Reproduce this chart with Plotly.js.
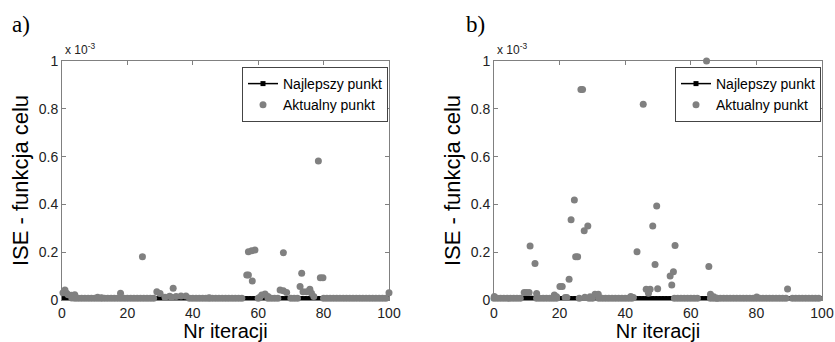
<!DOCTYPE html>
<html>
<head>
<meta charset="utf-8">
<script src="https://cdn.plot.ly/plotly-3.0.1.min.js"></script>
<style>html,body{margin:0;padding:0;background:#fff;}#chart{width:835px;height:342px;}</style>
</head>
<body>
<div id="chart"></div>
<script>
// Values of the cost function are given in units of 1e-3 (axis multiplier "x 10^-3")
const iterations = [0,1,2,3,4,5,6,7,8,9,10,11,12,13,14,15,16,17,18,19,20,21,22,23,24,25,26,27,28,29,30,31,32,33,34,35,36,37,38,39,40,41,42,43,44,45,46,47,48,49,50,51,52,53,54,55,56,57,58,59,60,61,62,63,64,65,66,67,68,69,70,71,72,73,74,75,76,77,78,79,80,81,82,83,84,85,86,87,88,89,90,91,92,93,94,95,96,97,98,99,100];

// Panel a)
const bestA = [0.008,0.008,0.008,0.007,0.007,0.007,0.007,0.007,0.007,0.007,0.007,0.007,0.007,0.007,0.007,0.007,0.007,0.007,0.007,0.007,0.006,0.006,0.006,0.006,0.006,0.006,0.006,0.006,0.006,0.006,0.006,0.006,0.006,0.006,0.006,0.006,0.006,0.006,0.006,0.006,0.006,0.006,0.006,0.006,0.006,0.006,0.006,0.006,0.006,0.006,0.006,0.006,0.006,0.006,0.006,0.006,0.006,0.006,0.006,0.006,0.006,0.006,0.006,0.006,0.006,0.006,0.006,0.006,0.006,0.006,0.006,0.006,0.006,0.006,0.006,0.006,0.006,0.006,0.006,0.006,0.006,0.006,0.006,0.006,0.006,0.006,0.006,0.006,0.006,0.006,0.006,0.006,0.006,0.006,0.006,0.006,0.006,0.006,0.006,0.006,0.006];
const currentAx = [0.9,0.3,1.4,1.9,2.9,3.9,10.9,12.1,17.9,24.6,29.0,30.0,34.0,32.9,34.9,36.4,37.9,31.5,33.5,45.0,56.5,57.0,58.2,57.0,58.0,59.0,61.1,62.1,60.5,63.0,67.7,66.7,67.7,68.7,73.3,72.8,73.7,74.8,75.8,76.3,77.0,79.0,79.8,78.4,100,
  3,4,5,6,7,8,9,10,11,12,13,14,15,16,17,18,19,20,21,22,23,24,25,26,27,28,39,40,41,42,43,44,45,46,47,48,49,50,51,52,53,54,55,60,63,64,65,66,70,71,72,80,81,82,83,84,85,86,87,88,89,90,91,92,93,94,95,96,97,98,99];
const currentAy = [0.042,0.030,0.028,0.022,0.020,0.022,0.012,0.009,0.028,0.181,0.034,0.027,0.049,0.016,0.015,0.017,0.017,0.012,0.012,0.009,0.105,0.105,0.080,0.202,0.206,0.209,0.021,0.025,0.012,0.015,0.198,0.042,0.039,0.031,0.112,0.056,0.035,0.035,0.045,0.028,0.015,0.093,0.093,0.582,0.030,
  0.008,0.007,0.007,0.007,0.007,0.007,0.007,0.007,0.007,0.007,0.007,0.007,0.007,0.007,0.007,0.007,0.007,0.007,0.007,0.007,0.007,0.007,0.007,0.007,0.007,0.007,0.007,0.007,0.007,0.007,0.007,0.007,0.007,0.007,0.007,0.007,0.007,0.007,0.007,0.007,0.007,0.007,0.007,0.007,0.007,0.007,0.007,0.007,0.007,0.007,0.007,0.007,0.007,0.007,0.007,0.007,0.007,0.007,0.007,0.007,0.007,0.007,0.007,0.007,0.007,0.007,0.007,0.007,0.007,0.007,0.007];

// Panel b)
const bestB = [0.008,0.008,0.007,0.007,0.007,0.007,0.007,0.007,0.007,0.007,0.007,0.007,0.007,0.007,0.007,0.007,0.007,0.007,0.007,0.007,0.006,0.006,0.006,0.006,0.006,0.006,0.006,0.006,0.006,0.006,0.006,0.006,0.006,0.006,0.006,0.006,0.006,0.006,0.006,0.006,0.006,0.006,0.006,0.006,0.006,0.006,0.006,0.006,0.006,0.006,0.006,0.006,0.006,0.006,0.006,0.006,0.006,0.006,0.006,0.006,0.006,0.006,0.006,0.006,0.006,0.006,0.006,0.006,0.006,0.006,0.006,0.006,0.006,0.006,0.006,0.006,0.006,0.006,0.006,0.006,0.006,0.006,0.006,0.006,0.006,0.006,0.006,0.006,0.006,0.006,0.006,0.006,0.006,0.006,0.006,0.006,0.006,0.006,0.006,0.006,0.006];
const currentBx = [26.5,27.0,45.5,64.8,24.5,23.5,27.5,28.6,49.6,48.4,11.0,12.5,9.2,9.9,10.7,13.0,20.1,20.8,22.9,24.9,25.5,18.4,19.1,21.7,22.2,27.7,29.3,30.8,31.8,41.7,42.5,43.6,46.4,47.6,47.1,49.1,49.9,53.7,54.7,54.2,55.2,65.5,66.0,67.0,68.0,80.1,89.5,0.1,
  0,1,2,3,4,5,6,7,8,13,14,15,16,17,18,19,26,29,30,32,33,34,35,36,37,38,39,40,41,42,55,56,57,58,59,60,61,62,66,67,68,69,70,71,72,73,74,75,76,77,78,79,80,81,82,83,84,85,86,87,88,89,91,92,93,94,95,96,97,98,99,100];
const currentBy = [0.881,0.881,0.819,1.000,0.418,0.336,0.290,0.310,0.393,0.310,0.226,0.153,0.031,0.031,0.031,0.027,0.057,0.057,0.087,0.181,0.181,0.021,0.014,0.010,0.010,0.011,0.014,0.024,0.024,0.015,0.010,0.202,0.045,0.045,0.028,0.149,0.047,0.100,0.118,0.063,0.228,0.140,0.024,0.014,0.007,0.013,0.046,0.015,
  0.007,0.007,0.007,0.007,0.007,0.007,0.007,0.007,0.007,0.007,0.007,0.007,0.007,0.007,0.007,0.007,0.007,0.007,0.007,0.007,0.007,0.007,0.007,0.007,0.007,0.007,0.007,0.007,0.007,0.007,0.007,0.007,0.007,0.007,0.007,0.007,0.007,0.007,0.007,0.007,0.007,0.007,0.007,0.007,0.007,0.007,0.007,0.007,0.007,0.007,0.007,0.007,0.007,0.007,0.007,0.007,0.007,0.007,0.007,0.007,0.007,0.007,0.007,0.007,0.007,0.007,0.007,0.007,0.007,0.007,0.007];

const xTicks = [0,20,40,60,80,100];
const yTicks = [0,0.2,0.4,0.6,0.8,1];
const seriesNames = ['Najlepszy punkt','Aktualny punkt'];
const panelLabels = ['a)','b)'];
const yTitle = 'ISE - funkcja celu';
const xTitle = 'Nr iteracji';
const multiplier = 'x 10<sup>-3</sup>';

const FONT = 'Liberation Sans, Arial, sans-serif';
const GRAY = '#808080';

function bestTrace(y, xa, ya, leg) {
  return {x: iterations, y: y, xaxis: xa, yaxis: ya, legend: leg, name: seriesNames[0],
    type: 'scatter', mode: 'lines+markers',
    line: {color: '#000', width: 1.5}, marker: {symbol: 'square', size: 5, color: '#000'}};
}
function curTrace(x, y, xa, ya, leg) {
  return {x: x, y: y, xaxis: xa, yaxis: ya, legend: leg, name: seriesNames[1],
    type: 'scatter', mode: 'markers', cliponaxis: false,
    marker: {symbol: 'circle', size: 7, color: GRAY}};
}

const data = [
  bestTrace(bestA, 'x', 'y', 'legend'),
  curTrace(currentAx, currentAy, 'x', 'y', 'legend'),
  bestTrace(bestB, 'x2', 'y2', 'legend2'),
  curTrace(currentBx, currentBy, 'x2', 'y2', 'legend2')
];

function xAxis(dom, anchor) {
  return {domain: dom, anchor: anchor, range: [0,100], tickvals: xTicks,
    ticks: 'inside', ticklen: 4, tickcolor: GRAY, showline: true, linecolor: GRAY, linewidth: 1,
    mirror: 'ticks', showgrid: false, zeroline: false,
    tickfont: {family: FONT, size: 14, color: '#222'},
    title: {text: xTitle, font: {family: FONT, size: 20, color: '#000'}, standoff: 2}};
}
function yAxis(dom, anchor) {
  return {domain: dom, anchor: anchor, range: [0,1], tickvals: yTicks,
    ticks: 'inside', ticklen: 4, tickcolor: GRAY, showline: true, linecolor: GRAY, linewidth: 1,
    mirror: 'ticks', showgrid: false, zeroline: false,
    tickfont: {family: FONT, size: 14, color: '#222'},
    title: {text: yTitle, font: {family: FONT, size: 22, color: '#000'}, standoff: 4}};
}
function legendBox(xpx) {
  return {x: xpx/835, xanchor: 'right', y: 1-67/342, yanchor: 'top',
    bgcolor: '#fff', bordercolor: '#444', borderwidth: 1, itemwidth: 30,
    font: {family: FONT, size: 14, color: '#000'}, tracegroupgap: 0};
}

const yDom = [1-300/342, 1-61/342];
const layout = {
  width: 835, height: 342, margin: {l:0, r:0, t:0, b:0},
  paper_bgcolor: '#fff', plot_bgcolor: '#fff', showlegend: true,
  xaxis: xAxis([62/835, 389/835], 'y'),
  yaxis: yAxis(yDom, 'x'),
  xaxis2: xAxis([494/835, 822/835], 'y2'),
  yaxis2: yAxis(yDom, 'x2'),
  legend: legendBox(388),
  legend2: legendBox(821),
  annotations: [
    {text: panelLabels[0], xref: 'paper', yref: 'paper', x: 21/835, y: 1-25/342, xanchor: 'center', yanchor: 'middle', showarrow: false, font: {family: 'Liberation Serif, Times New Roman, serif', size: 23, color: '#000'}},
    {text: panelLabels[1], xref: 'paper', yref: 'paper', x: 476/835, y: 1-25/342, xanchor: 'center', yanchor: 'middle', showarrow: false, font: {family: 'Liberation Serif, Times New Roman, serif', size: 23, color: '#000'}},
    {text: multiplier, xref: 'paper', yref: 'paper', x: 63/835, y: 1-59/342, xanchor: 'left', yanchor: 'bottom', showarrow: false, font: {family: FONT, size: 12, color: '#222'}},
    {text: multiplier, xref: 'paper', yref: 'paper', x: 495/835, y: 1-59/342, xanchor: 'left', yanchor: 'bottom', showarrow: false, font: {family: FONT, size: 12, color: '#222'}}
  ]
};

Plotly.newPlot('chart', data, layout, {staticPlot: true, displayModeBar: false});
</script>
</body>
</html>
